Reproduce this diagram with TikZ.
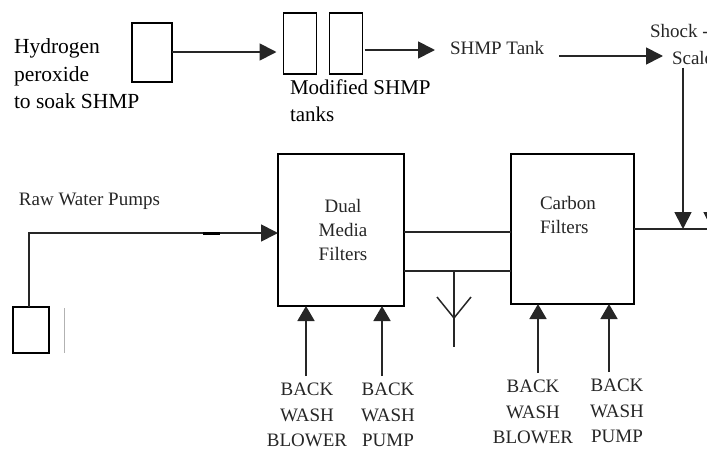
\documentclass[tikz,border=0pt]{standalone}
\usepackage{fontspec}
\setmainfont{Liberation Serif}
\usetikzlibrary{arrows.meta}
\begin{document}
\begin{tikzpicture}[x=1pt,y=-1pt,
  every node/.style={inner sep=0pt,outer sep=0pt},
  tank/.style={draw,line width=1.8pt,fill=white},
  pipe/.style={line width=1.8pt,draw=black!85},
  arr/.style={pipe,-{Triangle[length=17pt,width=17pt]}},
  txt/.style={text=black!85,font=\fontsize{19}{24}\selectfont},
  bw/.style={txt,align=center,font=\fontsize{19}{25.5}\selectfont}
]
\useasboundingbox (0,0) rectangle (707,450);
% top row
\node[align=left,anchor=west,text=black,font=\fontsize{21.5}{27.5}\selectfont] (h2text) at (14,74) {Hydrogen\\peroxide\\to soak SHMP};
\node[tank,minimum width=40pt,minimum height=59pt] (h2o2) at (152,52.5) {};
\node[tank,minimum width=33pt,minimum height=61pt] (mod1) at (300,43.5) {};
\node[tank,minimum width=33pt,minimum height=61pt] (mod2) at (346,43.5) {};
\node[align=left,anchor=north west,text=black,font=\fontsize{21}{27}\selectfont] (modtext) at (290,80) {Modified SHMP\\tanks};
\node[txt,anchor=west] (shmp) at (450,48) {SHMP Tank};
\node[txt,anchor=west] (shock1) at (650,31) {Shock -};
\node[txt,anchor=west] (shock2) at (672,58) {Scale};
\draw[arr,shorten >=7pt] (h2o2.east |- 0,52) -- (mod1.west |- 0,52);
\draw[arr,shorten <=2pt,shorten >=15pt] (mod2.east |- 0,50) -- (shmp.west |- 0,50);
\coordinate (a1s) at (559,56);
\coordinate (a1e) at (663,56);
\draw[arr] (a1s) -- (a1e);
% main filters
\node[tank,minimum width=126pt,minimum height=152pt] (dual) at (341,230) {};
\node[txt,align=center] (dualtext) at (343,230) {Dual\\Media\\Filters};
\node[tank,minimum width=123pt,minimum height=150pt] (carbon) at (572.5,229) {};
\node[txt,align=left,anchor=west] (carbtext) at (540,215) {Carbon\\Filters};
% connections between filters
\draw[pipe] (dual.east |- 0,232) -- (carbon.west |- 0,232);
\draw[pipe] (dual.east |- 0,271) -- (carbon.west |- 0,271);
\coordinate (ytop) at (454,271);
\coordinate (yj) at (454,318);
\coordinate (ybot) at (454,347);
\coordinate (yl) at (437,297);
\coordinate (yr) at (471,297);
\draw[pipe,line width=1.5pt] (ytop) -- (ybot);
\draw[pipe,line width=1.5pt] (yl) -- (yj) -- (yr);
% output
\coordinate (out) at (720,229);
\coordinate (j1) at (683,229);
\draw[pipe] (carbon.east |- 0,229) -- (out);
\draw[arr,shorten <=3pt] (shock2.south -| j1) -- (j1);
\coordinate (j2s) at (712,212);
\coordinate (j2) at (712,229);
\draw[arr] (j2s) -- (j2);
% raw water
\node[txt,anchor=west] (rawtext) at (19,201) {Raw Water Pumps};
\node[tank,line width=1.5pt,minimum width=36pt,minimum height=46pt] (pump) at (31,330) {};
\coordinate (rw) at (29,233);
\draw[arr] (pump.north -| rw) -- (rw) -- (dual.west |- rw);
\coordinate (seg1) at (203,233);
\coordinate (seg2) at (220,233);
\draw[line width=3pt] (seg1) -- (seg2);
\coordinate (g1) at (64,308);
\coordinate (g2) at (64,353);
\draw[black!30,line width=0.8pt] (g1) -- (g2);
% back wash
\node[bw] (bw1) at (307,415) {BACK\\WASH\\BLOWER};
\node[bw] (bw2) at (388,415) {BACK\\WASH\\PUMP};
\node[bw] (bw3) at (533,412) {BACK\\WASH\\BLOWER};
\node[bw] (bw4) at (617,411) {BACK\\WASH\\PUMP};
\coordinate (s1) at (306,376);
\coordinate (s2) at (382,376);
\coordinate (s3) at (538,373);
\coordinate (s4) at (609,372);
\draw[arr,-{Triangle[length=15pt,width=17pt]}] (s1) -- (s1 |- dual.south);
\draw[arr,-{Triangle[length=15pt,width=17pt]}] (s2) -- (s2 |- dual.south);
\draw[arr,-{Triangle[length=15pt,width=17pt]}] (s3) -- (s3 |- carbon.south);
\draw[arr,-{Triangle[length=15pt,width=17pt]}] (s4) -- (s4 |- carbon.south);
\end{tikzpicture}
\end{document}
